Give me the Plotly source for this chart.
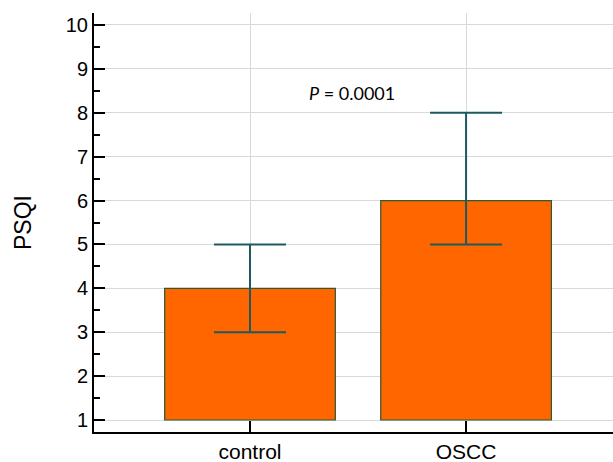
import plotly.graph_objects as go

categories = ["control", "OSCC"]
medians = [4, 6]
lower = [3, 5]
upper = [5, 8]
base_value = 1
p_text = "<i>P</i> = 0.0001"

fig = go.Figure()
fig.add_trace(go.Bar(
    x=categories,
    y=[m - base_value for m in medians],
    base=base_value,
    width=0.79,
    marker=dict(color="#FF6600", line=dict(color="#2F5A2F", width=1.2)),
    showlegend=False,
))
fig.add_trace(go.Scatter(
    x=categories,
    y=medians,
    mode="markers",
    marker=dict(size=0.1, color="rgba(0,0,0,0)"),
    error_y=dict(
        type="data",
        symmetric=False,
        array=[u - m for u, m in zip(upper, medians)],
        arrayminus=[m - l for m, l in zip(medians, lower)],
        color="#1D5A5E",
        thickness=2,
        width=36,
    ),
    showlegend=False,
))

fig.add_annotation(x=0.47, y=8.45, xref="x", yref="y", text=p_text,
                   showarrow=False, font=dict(size=18, color="#000000", family="Lato, Open Sans, Liberation Sans"))

fig.update_layout(
    width=613, height=462,
    margin=dict(l=94, r=0, t=13, b=30),
    paper_bgcolor="white", plot_bgcolor="white",
    font=dict(family="Liberation Sans, Arial", size=20, color="#000"),
    xaxis=dict(
        range=[-0.722, 1.68],
        showgrid=True, gridcolor="#D9D9D9", gridwidth=1,
        showline=True, linecolor="#000", linewidth=2,
        ticks="inside", ticklen=11, tickwidth=1.5, tickcolor="#000",
        tickfont=dict(size=21),
        zeroline=False,
    ),
    yaxis=dict(
        range=[0.727, 10.273],
        tickvals=list(range(1, 11)),
        showgrid=True, gridcolor="#D9D9D9", gridwidth=1,
        showline=True, linecolor="#000", linewidth=2,
        ticks="inside", ticklen=11, tickwidth=1.5, tickcolor="#000",
        tickfont=dict(size=20),
        minor=dict(tickvals=[x + 0.5 for x in range(1, 10)], ticks="inside", ticklen=6, tickwidth=1.5, tickcolor="#000", showgrid=False),
        title=dict(text="PSQI", font=dict(size=23), standoff=28),
        zeroline=False,
    ),
)

fig.write_html("out.html", config={"displayModeBar": False},
               post_script="document.body.style.margin='0';")
